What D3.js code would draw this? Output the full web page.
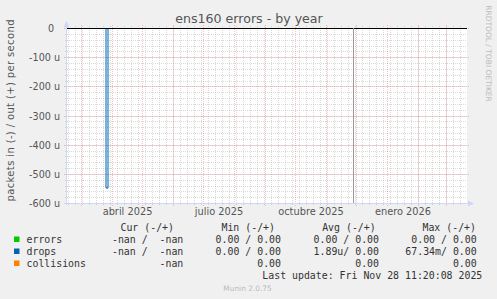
<!DOCTYPE html>
<html>
<head>
<meta charset="utf-8">
<script src="https://cdn.jsdelivr.net/npm/d3@7"></script>
<style>
  body { margin: 0; background: #f0f0f0; }
  svg { display: block; font-family: "DejaVu Sans", sans-serif; }
  .mono { font-family: "DejaVu Sans Mono", monospace; white-space: pre; }
</style>
</head>
<body>
<div class="chart"></div>
<script>
// time window of the yearly graph (400 days)
const startTime = new Date(2025, 1, 14, 12);
const endTime = new Date(2026, 2, 21, 12);
const lastUpdate = new Date(2025, 10, 28, 11, 20, 8);

// y axis ticks
const yTicks = [0, -100e-6, -200e-6, -300e-6, -400e-6, -500e-6, -600e-6];
const yLabels = ["0", "-100 u", "-200 u", "-300 u", "-400 u", "-500 u", "-600 u"];

// x axis labels (one per quarter)
const labelMonths = [new Date(2025, 3, 1), new Date(2025, 6, 1), new Date(2025, 9, 1), new Date(2026, 0, 1)];
const xLabels = ["abril 2025", "julio 2025", "octubre 2025", "enero 2026"];

// drops (in) series, daily steps
const dropsDates = [new Date(2025, 1, 14, 12), new Date(2025, 2, 26), new Date(2025, 2, 28), lastUpdate];
const dropsIn = [0, -547e-6, 0, 0];

// errors (in) series
const errorsDates = [new Date(2025, 1, 14, 12), lastUpdate];
const errorsIn = [0, 0];

// legend
const series = ["errors", "drops", "collisions"];
const colors = ["#00cc00", "#0066b3", "#ff8000"];
const curVals = ["-nan /  -nan", "-nan /  -nan", "-nan"];
const minVals = ["0.00 / 0.00", "0.00 / 0.00", "0.00"];
const avgVals = ["0.00 / 0.00", "1.89u/ 0.00", "0.00"];
const maxVals = ["0.00 / 0.00", "67.34m/ 0.00", "0.00"];

const w = 497, h = 299;
const svg = d3.select('.chart').append('svg')
    .attr('width', w)
    .attr('height', h);

svg.append('rect').attr('width', w).attr('height', h).attr('fill', '#f0f0f0');

const x = d3.scaleTime().domain([startTime, endTime]).range([66.5, 466.5]);
const y = d3.scaleLinear().domain([0, -600e-6]).range([28.5, 203.5]);

// canvas
svg.append('rect')
    .attr('x', 67).attr('y', 28)
    .attr('width', 400).attr('height', 175)
    .attr('fill', '#ffffff');

const gridMinor = 'rgba(140,140,140,0.32)';
const gridMajor = 'rgba(230,100,100,0.4)';

// minor grid: weeks and 20u steps
const weeks = d3.timeSunday.range(startTime, endTime);
svg.selectAll('.vminor')
    .data(weeks)
    .enter()
    .append('line')
    .attr('x1', d => Math.round(x(d)) + 0.5)
    .attr('x2', d => Math.round(x(d)) + 0.5)
    .attr('y1', 26)
    .attr('y2', 205)
    .attr('stroke', gridMinor)
    .attr('stroke-dasharray', '1,1');

const minorY = d3.range(0, 31).map(i => -i * 20e-6);
svg.selectAll('.hminor')
    .data(minorY)
    .enter()
    .append('line')
    .attr('x1', 65)
    .attr('x2', 467)
    .attr('y1', d => Math.round(y(d) - 0.5) + 0.5)
    .attr('y2', d => Math.round(y(d) - 0.5) + 0.5)
    .attr('stroke', gridMinor)
    .attr('stroke-dasharray', '1,1');

// major grid: months and 100u steps
const months = d3.timeMonth.range(startTime, endTime);
svg.selectAll('.vmajor')
    .data(months)
    .enter()
    .append('line')
    .attr('x1', d => Math.round(x(d)) + 0.5)
    .attr('x2', d => Math.round(x(d)) + 0.5)
    .attr('y1', 25)
    .attr('y2', 206)
    .attr('stroke', gridMajor)
    .attr('stroke-dasharray', '1,1');

svg.selectAll('.hmajor')
    .data(yTicks)
    .enter()
    .append('line')
    .attr('x1', 64)
    .attr('x2', 470)
    .attr('y1', d => Math.round(y(d) - 0.5) + 0.5)
    .attr('y2', d => Math.round(y(d) - 0.5) + 0.5)
    .attr('stroke', gridMajor)
    .attr('stroke-dasharray', '1,1');

// data lines
const line = d3.line()
    .x(d => x(d[0]))
    .y(d => y(d[1]))
    .curve(d3.curveStepAfter);

svg.append('path')
    .datum(errorsDates.map((d, i) => [d, errorsIn[i]]))
    .attr('d', line)
    .attr('fill', 'none')
    .attr('stroke', colors[0]);

svg.append('path')
    .datum(dropsDates.map((d, i) => [d, dropsIn[i]]))
    .attr('d', line)
    .attr('fill', 'none')
    .attr('stroke', colors[1]);

// zero line
svg.append('line')
    .attr('x1', 67).attr('x2', 467)
    .attr('y1', y(0)).attr('y2', y(0))
    .attr('stroke', '#000')
    .attr('stroke-width', 1.2);

// last update rule
svg.append('line')
    .attr('x1', Math.round(x(lastUpdate)) + 0.5)
    .attr('x2', Math.round(x(lastUpdate)) + 0.5)
    .attr('y1', 28).attr('y2', 203)
    .attr('stroke', '#999');

// axes lines + arrows
const axisCol = '#cfd6f8';
svg.append('line').attr('x1', 66.5).attr('x2', 66.5).attr('y1', 205).attr('y2', 24).attr('stroke', axisCol);
svg.append('line').attr('x1', 64).attr('x2', 469).attr('y1', 203.5).attr('y2', 203.5).attr('stroke', axisCol);
svg.append('path').attr('d', 'M63.5,27.5 L66.5,20.5 L69.5,27.5 Z').attr('fill', axisCol);
svg.append('path').attr('d', 'M468,200.5 L474,203.5 L468,206.5 Z').attr('fill', axisCol);

// y axis labels
const yAxis = d3.axisLeft(y)
    .tickValues(yTicks)
    .tickFormat((d, i) => yLabels[i])
    .tickSize(0)
    .tickPadding(6.5);

const gy = svg.append('g')
    .attr('transform', 'translate(66.5,0)')
    .call(yAxis);
gy.select('.domain').remove();
gy.selectAll('text')
    .attr('fill', '#555')
    .attr('font-size', 9.6)
    .attr('font-family', 'DejaVu Sans')
    .attr('dx', (d, i) => i === 0 ? -6 : 0);

// x axis labels, centred on the labelled month
const xAxis = d3.axisBottom(x)
    .tickValues(labelMonths.map(m => new Date((+m + +d3.timeMonth.offset(m, 1)) / 2)))
    .tickFormat((d, i) => xLabels[i])
    .tickSize(0)
    .tickPadding(5);

const gx = svg.append('g')
    .attr('transform', 'translate(0,203)')
    .call(xAxis);
gx.select('.domain').remove();
gx.selectAll('text')
    .attr('fill', '#555')
    .attr('font-size', 9.8)
    .attr('font-family', 'DejaVu Sans');

// title
svg.append('text')
    .text('ens160 errors - by year')
    .attr('x', 249).attr('y', 23)
    .attr('text-anchor', 'middle')
    .attr('font-size', 12.6)
    .attr('fill', '#555');

// vertical axis title
svg.append('text')
    .text('packets in (-) / out (+) per second')
    .attr('transform', 'translate(13.8,110.5) rotate(-90)')
    .attr('text-anchor', 'middle')
    .attr('font-size', 10)
    .attr('textLength', 182)
    .attr('lengthAdjust', 'spacing')
    .attr('fill', '#555');

// rrdtool watermark
svg.append('text')
    .text('RRDTOOL / TOBI OETIKER')
    .attr('transform', 'translate(485.5,53.5) rotate(90)')
    .attr('text-anchor', 'middle')
    .attr('font-size', 7.5)
    .attr('fill', '#bbb');

// legend
const legendFont = 9.9;
const header = [["Cur (-/+)", 174], ["Min (-/+)", 275], ["Avg (-/+)", 375.7], ["Max (-/+)", 476]];
svg.selectAll('.lhead')
    .data(header)
    .enter()
    .append('text')
    .attr('class', 'mono')
    .text(d => d[0])
    .attr('x', d => d[1])
    .attr('y', 230.5)
    .attr('text-anchor', 'end')
    .attr('font-size', legendFont)
    .attr('fill', '#333');

const rows = svg.selectAll('.lrow')
    .data(series)
    .enter()
    .append('g')
    .attr('transform', (d, i) => 'translate(0,' + (243 + i * 12) + ')');

rows.append('rect')
    .attr('x', 14).attr('y', -6.5)
    .attr('width', 5.5).attr('height', 5.5)
    .attr('fill', (d, i) => colors[i]);

rows.append('text')
    .attr('class', 'mono')
    .text(d => d)
    .attr('x', 26.5)
    .attr('font-size', legendFont)
    .attr('fill', '#333');

const cols = [[curVals, 183.3], [minVals, 281], [avgVals, 379], [maxVals, 476.7]];
cols.forEach(c => {
    rows.append('text')
        .attr('class', 'mono')
        .text((d, i) => c[0][i])
        .attr('x', c[1])
        .attr('text-anchor', 'end')
        .attr('font-size', legendFont)
        .attr('fill', '#333');
});

svg.append('text')
    .attr('class', 'mono')
    .text('Last update: Fri Nov 28 11:20:08 2025')
    .attr('x', 482.3).attr('y', 279)
    .attr('text-anchor', 'end')
    .attr('font-size', legendFont)
    .attr('fill', '#333');

svg.append('text')
    .text('Munin 2.0.75')
    .attr('x', 247.5).attr('y', 291)
    .attr('text-anchor', 'middle')
    .attr('font-size', 7.4)
    .attr('fill', '#bbb');
</script>
</body>
</html>
